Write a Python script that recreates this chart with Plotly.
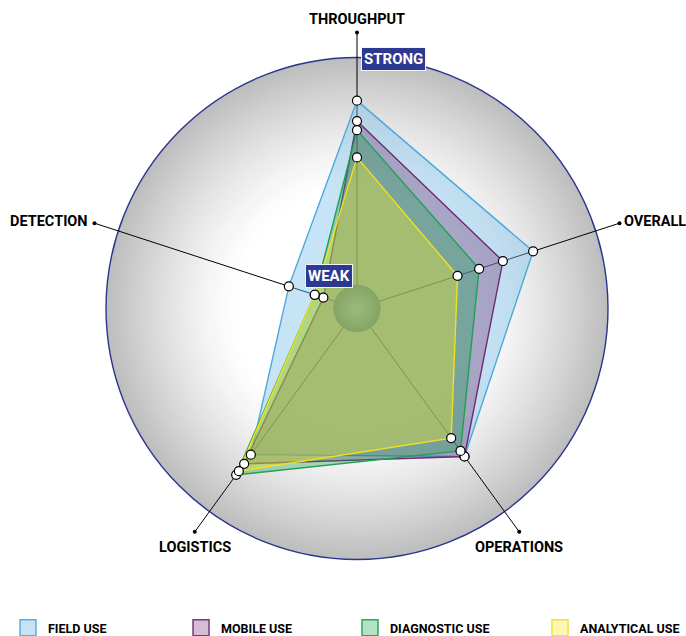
import math
import plotly.graph_objects as go

# ---------------- data ----------------
categories = ["THROUGHPUT", "OVERALL", "OPERATIONS", "LOGISTICS", "DETECTION"]
series_names = ["FIELD USE", "MOBILE USE", "DIAGNOSTIC USE", "ANALYTICAL USE"]
field_use = [81, 71, 70, 69, 21]
mobile_use = [72, 57, 70, 74, 5]
diagnostic_use = [68, 46, 67, 80, 9]
analytical_use = [56, 36, 60, 78, 9]
series_values = [field_use, mobile_use, diagnostic_use, analytical_use]

# ---------------- style ----------------
line_colors = ["#4aa8dc", "#6e2a72", "#1ea055", "#f2e01c"]
fill_colors = ["rgba(120,190,232,0.42)", "rgba(120,55,120,0.36)",
               "rgba(30,160,80,0.36)", "rgba(245,232,40,0.36)"]
FONT = "Roboto, Liberation Sans, sans-serif"

W, H = 686, 636
CX, CY = 357.0, 308.5      # centre in px
R_OUT = 251.0              # gradient circle radius px
R_DOM = 276.0              # axis line length px
R_HOLE = 24.0
RMAX = 100 * (R_DOM - R_HOLE) / (R_OUT - R_HOLE)


def circ(r, **kw):
    return dict(type="circle", xref="paper", yref="paper", layer="below",
                x0=(CX - r) / W, x1=(CX + r) / W,
                y0=1 - (CY + r) / H, y1=1 - (CY - r) / H, **kw)


shapes = []
N = 60
for i in range(N):
    f = 1.0 - i * (0.55 / N)
    t = max(0.0, (f - 0.48) / 0.52)
    g = int(round(255 - 66 * t ** 1.3))
    shapes.append(circ(R_OUT * f, fillcolor=f"rgb({g},{g},{g})", line=dict(width=0)))
shapes.append(circ(R_OUT, fillcolor="rgba(0,0,0,0)", line=dict(color="#2b3590", width=1.4)))
# centre disk
for i in range(8):
    r = R_HOLE * (1 - i / 9)
    k = i / 8
    c = (int(134 + 20 * k), int(166 + 20 * k), int(102 + 22 * k))
    shapes.append(circ(r, fillcolor=f"rgb{c}", line=dict(width=0)))

fig = go.Figure()

closed_theta = categories + [categories[0]]
for name, vals, lc, fc in zip(series_names, series_values, line_colors, fill_colors):
    fig.add_trace(go.Scatterpolar(
        r=vals + [vals[0]], theta=closed_theta, mode="lines", fill="toself",
        fillcolor=fc, line=dict(color=lc, width=1.4), showlegend=False,
        hoverinfo="skip"))

for name, vals in zip(series_names, series_values):
    fig.add_trace(go.Scatterpolar(
        r=vals, theta=categories, mode="markers", showlegend=False,
        marker=dict(size=9, color="white", line=dict(color="black", width=1.2)),
        name=name))

# axis end dots
fig.add_trace(go.Scatterpolar(
    r=[RMAX] * len(categories), theta=categories, mode="markers",
    marker=dict(size=4, color="black"), showlegend=False, cliponaxis=False,
    hoverinfo="skip"))

# legend entries: one legend per item so each can be placed
legend_fill = ["#c6e2f5", "#d7bcd6", "#b4e2c4", "#fdf7b4"]
legend_line = ["#5aaee0", "#7b3a7b", "#2aa860", "#f2e430"]
legend_x_px = [8, 181, 350, 540]
legend_cfg = {}
for k, (name, fc, lc, lx) in enumerate(zip(series_names, legend_fill, legend_line, legend_x_px)):
    key = "legend" if k == 0 else f"legend{k + 1}"
    fig.add_trace(go.Scatterpolar(
        r=[None], theta=[categories[0]], mode="markers", name=name, legend=key,
        marker=dict(symbol="square", size=18, color=fc, line=dict(color=lc, width=1.5))))
    legend_cfg[key] = dict(orientation="h", x=lx / W, y=1 - 628 / H, xanchor="left",
                           yanchor="middle", bgcolor="rgba(0,0,0,0)",
                           font=dict(size=12.5, family=FONT, color="black", weight="bold"),
                           itemsizing="trace")

# axis labels as annotations at the end of each axis line
annotations = []
n = len(categories)
for i, c in enumerate(categories):
    ang = math.radians(90 - 360 * i / n)
    px = CX + R_DOM * math.cos(ang)
    py = CY - R_DOM * math.sin(ang)
    ca, sa = math.cos(ang), math.sin(ang)
    if sa > 0.9:
        xa, ya, xs, ys = "center", "bottom", 0, 2
    elif sa < -0.5:
        xa, ya, xs, ys = "center", "top", 0, -5
    elif ca > 0:
        xa, ya, xs, ys = "left", "middle", 3, 2
    else:
        xa, ya, xs, ys = "right", "middle", -5, 2
    annotations.append(dict(text=c, x=px / W, y=1 - py / H, xref="paper", yref="paper",
                            xanchor=xa, yanchor=ya, xshift=xs, yshift=ys, showarrow=False,
                            font=dict(size=14.5, family=FONT, color="black", weight="bold")))

annotations += [
    dict(text="STRONG", x=394 / W, y=1 - 59 / H, xref="paper", yref="paper",
         xanchor="center", yanchor="middle",
         showarrow=False, font=dict(size=15, color="white", family=FONT, weight="bold"),
         bgcolor="#2b3990", bordercolor="rgba(255,255,255,0.9)", borderwidth=1, borderpad=2),
    dict(text="WEAK", x=328.5 / W, y=1 - 276 / H, xref="paper", yref="paper",
         xanchor="center", yanchor="middle",
         showarrow=False, font=dict(size=15, color="white", family=FONT, weight="bold"),
         bgcolor="#2b3990", bordercolor="rgba(255,255,255,0.9)", borderwidth=1, borderpad=2),
]

fig.update_layout(
    width=W, height=H,
    margin=dict(l=0, r=0, t=0, b=0, autoexpand=False),
    paper_bgcolor="white",
    font=dict(family=FONT, color="black"),
    shapes=shapes,
    polar=dict(
        domain=dict(x=[(CX - R_DOM) / W, (CX + R_DOM) / W],
                    y=[1 - (CY + R_DOM) / H, 1 - (CY - R_DOM) / H]),
        hole=R_HOLE / R_DOM,
        bgcolor="rgba(0,0,0,0)",
        radialaxis=dict(range=[0, RMAX], visible=False),
        angularaxis=dict(
            rotation=90, direction="clockwise", type="category",
            categoryarray=categories, showticklabels=False,
            showline=False, ticks="", gridcolor="black", gridwidth=1.3,
        ),
    ),
    annotations=annotations,
    **legend_cfg,
)

fig.write_html("out.html", config={"displayModeBar": False},
               post_script="document.body.style.margin='0';document.body.style.overflow='hidden';")
